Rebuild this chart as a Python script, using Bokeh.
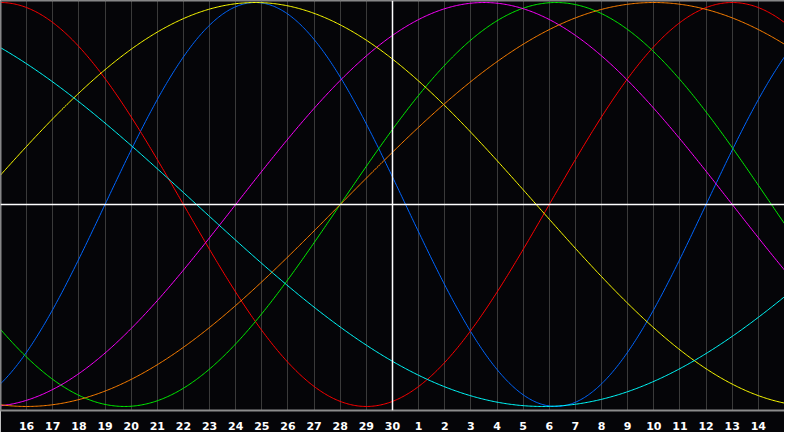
import numpy as np
from bokeh.plotting import figure
from bokeh.models import Range1d, FixedTicker, Span
from bokeh.embed import file_html
from bokeh.resources import INLINE

# ---- data ----
cycle_names = ["Physical", "Emotional", "Intellectual", "Intuitive", "Aesthetic", "Awareness", "Spiritual"]
cycle_periods = [23, 28, 33, 38, 43, 48, 53]
cycle_colors = ["#0066ff", "#ff0000", "#00ee00", "#ff00ff", "#ffff00", "#ff8000", "#00ffff"]
days_alive_at_day30 = 19538          # age in days on the centre day (day 30)
day_numbers = list(range(16, 45))    # plot day index (31 = 1st of next month)
day_labels = ["16", "17", "18", "19", "20", "21", "22", "23", "24", "25", "26", "27", "28", "29", "30",
              "1", "2", "3", "4", "5", "6", "7", "8", "9", "10", "11", "12", "13", "14"]
window_start, window_end, centre_day = 15, 45, 30

p = figure(width=784, height=432, output_backend="svg", toolbar_location=None,
           x_range=Range1d(window_start, window_end), y_range=Range1d(-1.02, 1.01),
           y_axis_location=None, min_border_left=0, min_border_right=0,
           min_border_top=0, min_border_bottom=0)
p.background_fill_color = "#050508"
p.border_fill_color = "#050508"
p.outline_line_color = None

p.ygrid.visible = False
p.xgrid.ticker = FixedTicker(ticks=day_numbers)
p.xgrid.grid_line_color = "#3a3a3a"
p.xgrid.grid_line_width = 1

p.xaxis.ticker = FixedTicker(ticks=day_numbers)
p.xaxis.major_label_overrides = {d: l for d, l in zip(day_numbers, day_labels)}
p.xaxis.major_tick_line_color = None
p.xaxis.minor_tick_line_color = None
p.xaxis.axis_line_color = "#8c8c8c"
p.xaxis.axis_line_width = 2
p.xaxis.major_label_text_color = "#ffffff"
p.xaxis.major_label_text_font = "DejaVu Sans"
p.xaxis.major_label_text_font_style = "bold"
p.xaxis.major_label_text_font_size = "11px"
p.xaxis.major_label_standoff = 5

# frame borders (left, top) and centre cross
p.add_layout(Span(location=window_start, dimension="height", line_color="#8c8c8c", line_width=2))
p.add_layout(Span(location=1.01, dimension="width", line_color="#8c8c8c", line_width=2))

t = np.linspace(window_start, window_end, 601)
for period, color in zip(cycle_periods, cycle_colors):
    age = days_alive_at_day30 + (t - centre_day)
    p.line(t, np.sin(2 * np.pi * age / period), line_color=color, line_width=1)

p.add_layout(Span(location=0, dimension="width", line_color="#ffffff", line_width=1.5))
p.add_layout(Span(location=centre_day, dimension="height", line_color="#ffffff", line_width=1.5))

open("out.html", "w").write(file_html(p, INLINE))
